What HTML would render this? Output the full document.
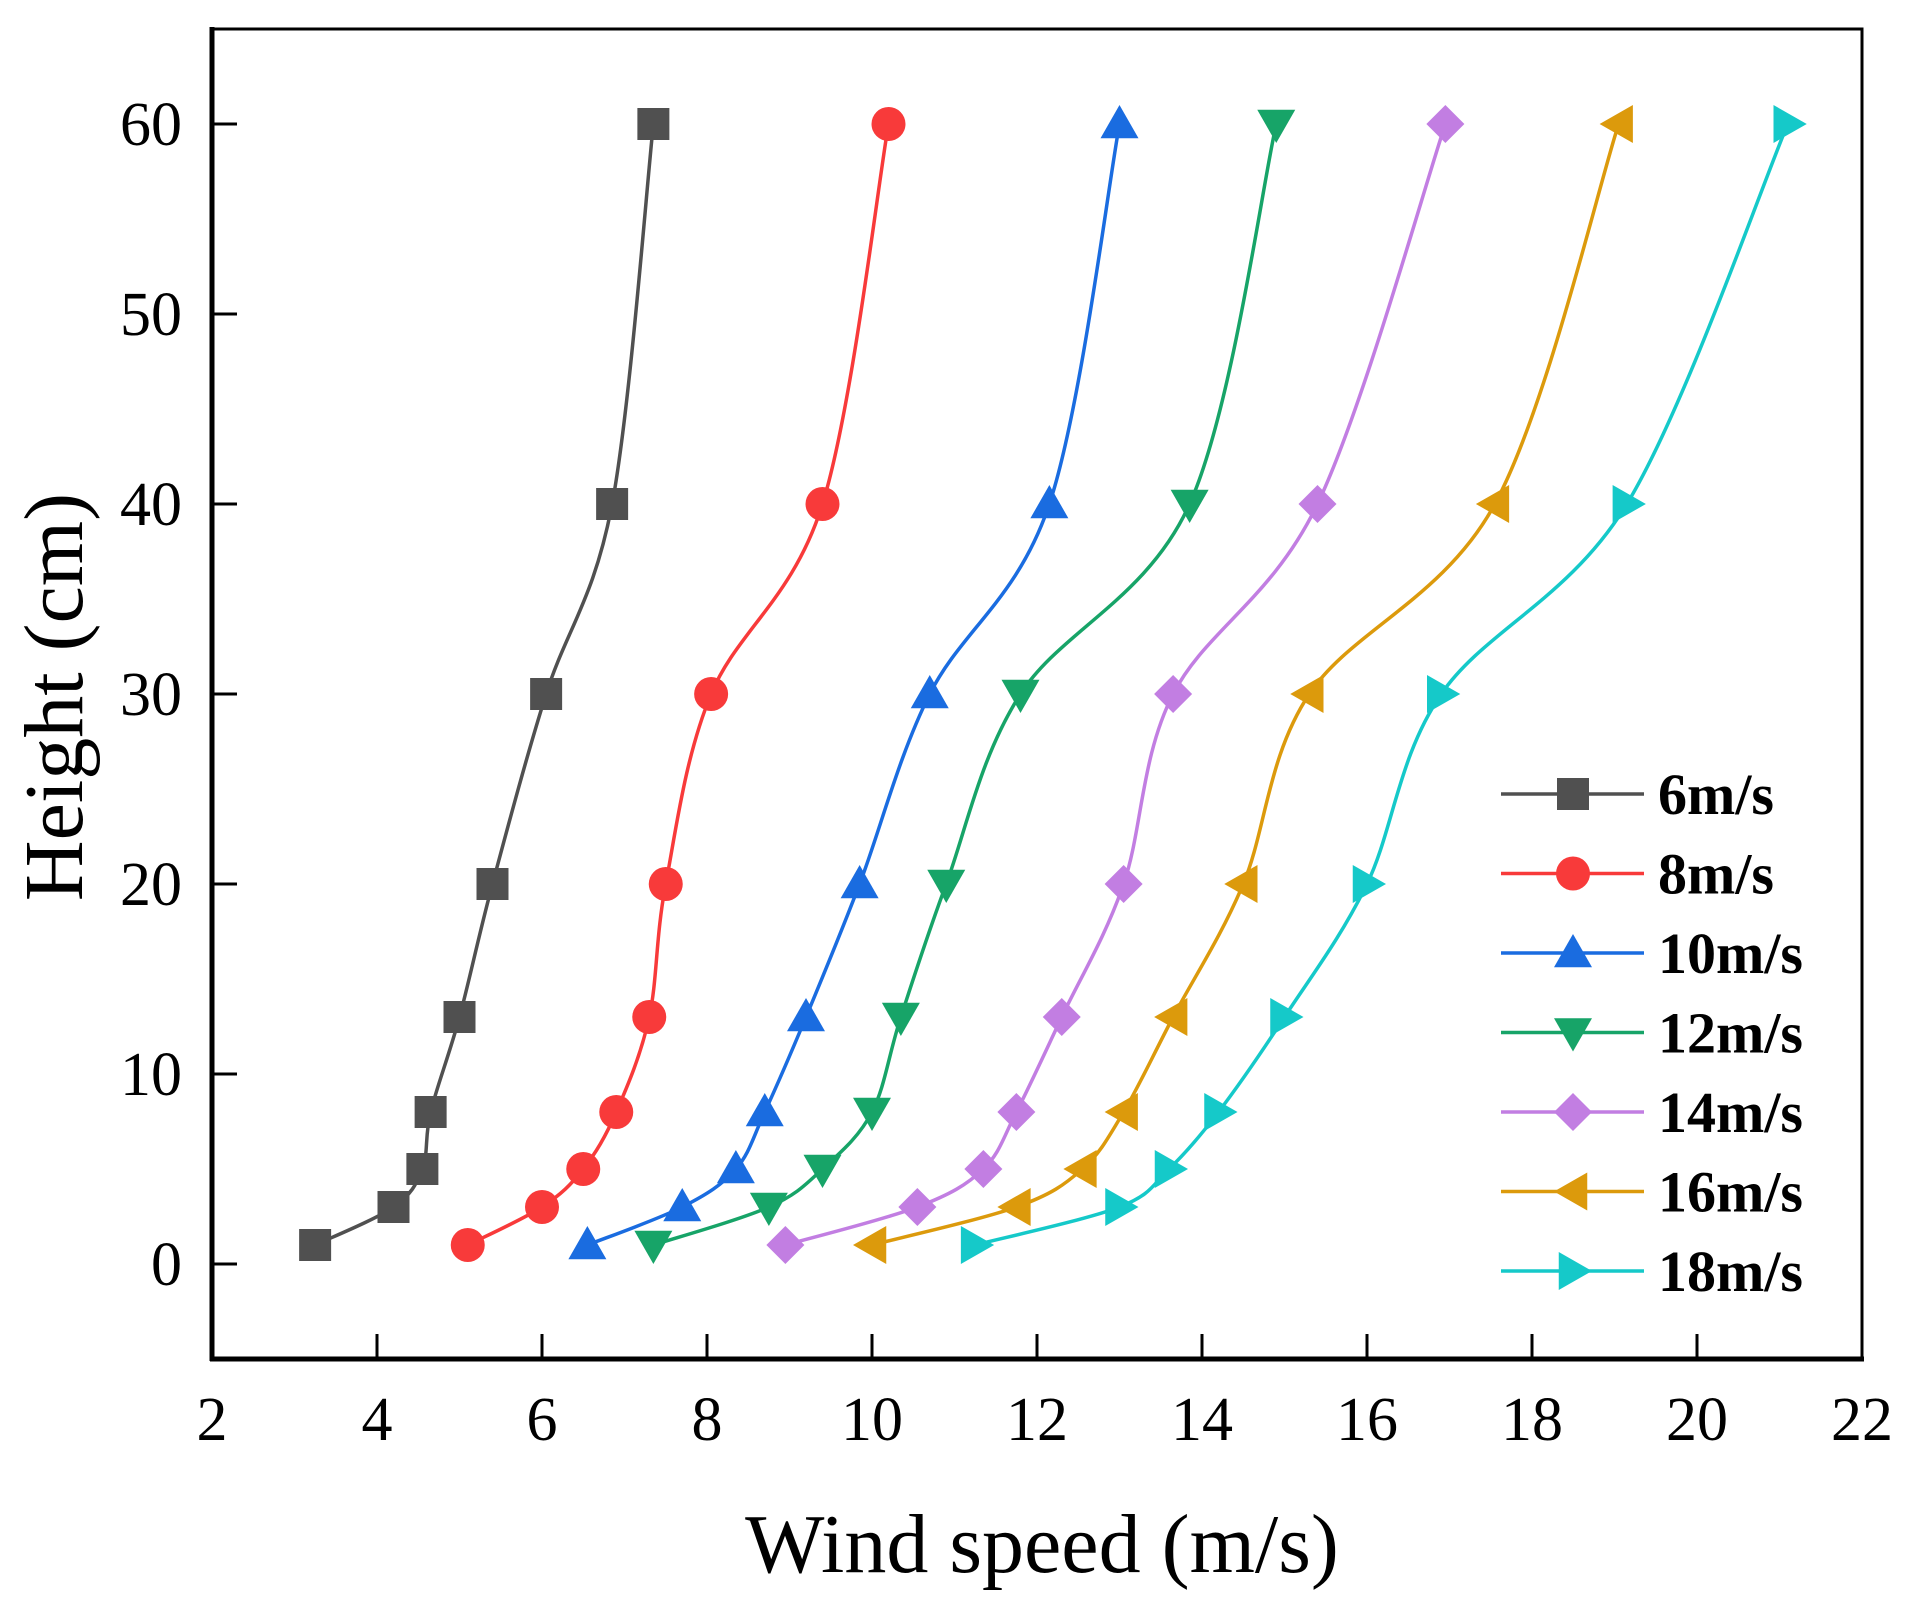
<!DOCTYPE html>
<html><head><meta charset="utf-8"><style>
html,body{margin:0;padding:0;background:#fff;}
svg{display:block;font-family:"Liberation Serif",serif;}
</style></head><body>
<svg id="chart" width="1906" height="1608" viewBox="0 0 1906 1608" xmlns="http://www.w3.org/2000/svg"></svg>
<script>
const xTicks=[2,4,6,8,10,12,14,16,18,20,22];
const yTicks=[0,10,20,30,40,50,60];
const heights=[1,3,5,8,13,20,30,40,60];
const seriesNames=["6m/s","8m/s","10m/s","12m/s","14m/s","16m/s","18m/s"];
const s6=[3.25,4.2,4.55,4.65,5.0,5.4,6.05,6.85,7.35];
const s8=[5.1,6.0,6.5,6.9,7.3,7.5,8.05,9.4,10.2];
const s10=[6.55,7.7,8.35,8.7,9.2,9.85,10.7,12.15,13.0];
const s12=[7.35,8.75,9.4,10.0,10.35,10.9,11.8,13.85,14.9];
const s14=[8.95,10.55,11.35,11.75,12.3,13.05,13.65,15.4,16.95];
const s16=[10.0,11.75,12.55,13.05,13.65,14.5,15.3,17.55,19.05];
const s18=[11.25,13.0,13.6,14.2,15.0,16.0,16.9,19.15,21.1];
const seriesValues=[s6,s8,s10,s12,s14,s16,s18];

const colors=["#505050","#f83a3a","#1a6ce0","#17a468","#c27ee2","#dc9a0c","#15c9c9"];
const markers=["square","circle","up","down","diamond","left","right"];
const L=212,R=1862,T=29,B=1359;
const xmin=2,xmax=22,ymin=-5,ymax=65;
const X=v=>L+(v-xmin)/(xmax-xmin)*(R-L);
const Y=v=>B-(v-ymin)/(ymax-ymin)*(B-T);
const svg=document.getElementById('chart');
const NS="http://www.w3.org/2000/svg";
function el(tag,attrs,parent){const e=document.createElementNS(NS,tag);for(const k in attrs)e.setAttribute(k,attrs[k]);(parent||svg).appendChild(e);return e;}

function markerShape(type,cx,cy,color,g){
  const r=16;let e;
  if(type==="square")e=el('rect',{x:cx-r,y:cy-r,width:2*r,height:2*r,fill:color},g);
  else if(type==="circle")e=el('circle',{cx:cx,cy:cy,r:r+1,fill:color},g);
  else{
    let p;const a=19;
    if(type==="up")p=[[cx,cy-a],[cx+a,cy+a*0.75],[cx-a,cy+a*0.75]];
    if(type==="down")p=[[cx,cy+a],[cx+a,cy-a*0.75],[cx-a,cy-a*0.75]];
    if(type==="left")p=[[cx-a,cy],[cx+a*0.75,cy-a],[cx+a*0.75,cy+a]];
    if(type==="right")p=[[cx+a,cy],[cx-a*0.75,cy-a],[cx-a*0.75,cy+a]];
    if(type==="diamond")p=[[cx,cy-a],[cx+a,cy],[cx,cy+a],[cx-a,cy]];
    e=el('polygon',{points:p.map(q=>q.join(',')).join(' '),fill:color},g);
  }
  return e;
}

seriesValues.forEach((vals,si)=>{
  const g=el('g',{});
  
  
  const pts=vals.map((v,i)=>[X(v),Y(heights[i])]);
  let d="M"+pts[0][0]+","+pts[0][1];
  for(let i=0;i<pts.length-1;i++){
    const p0=pts[i-1]||pts[i],p1=pts[i],p2=pts[i+1],p3=pts[i+2]||pts[i+1];
    const c1=[p1[0]+(p2[0]-p0[0])/6,p1[1]+(p2[1]-p0[1])/6];
    const c2=[p2[0]-(p3[0]-p1[0])/6,p2[1]-(p3[1]-p1[1])/6];
    d+=" C"+c1.join(",")+" "+c2.join(",")+" "+p2.join(",");
  }
  const path=el('path',{d:d,fill:'none',stroke:colors[si],'stroke-width':3.5},g);
  
  
  pts.forEach((p,i)=>{
    const m=markerShape(markers[si],p[0],p[1],colors[si],g);
    
    
  });
});

const frame=el('rect',{x:L,y:T,width:R-L,height:B-T,fill:'none',stroke:'#000','stroke-width':3});


const xl=el('line',{x1:L-2,y1:B,x2:R+2,y2:B,stroke:'#000','stroke-width':5});


const yl=el('line',{x1:L,y1:T-2,x2:L,y2:B+2,stroke:'#000','stroke-width':5});



xTicks.forEach(t=>{
  if(t!==xmin&&t!==xmax){
    const tk=el('line',{x1:X(t),y1:B,x2:X(t),y2:B-25,stroke:'#000','stroke-width':3});
    
    
  }
  const tx=el('text',{x:X(t),y:1440,'font-size':62,'text-anchor':'middle',fill:'#000'});
  tx.textContent=t;
  
  
});
yTicks.forEach(t=>{
  const tk=el('line',{x1:L,y1:Y(t),x2:L+25,y2:Y(t),stroke:'#000','stroke-width':3});
  
  
  const tx=el('text',{x:182,y:Y(t)+21,'font-size':62,'text-anchor':'end',fill:'#000'});
  tx.textContent=t;
  
  
});

const xt=el('text',{x:1042,y:1572,'font-size':84,'text-anchor':'middle',fill:'#000'});
xt.textContent="Wind speed (m/s)";


const yt=el('text',{x:0,y:0,'font-size':84,'text-anchor':'middle',fill:'#000',transform:'translate(82,697) rotate(-90)'});
yt.textContent="Height (cm)";



const lg=el('g',{});


seriesNames.forEach((n,i)=>{
  const cy=794+i*79.5;
  const g=el('g',{},lg);
  
  
  el('line',{x1:1501,y1:cy,x2:1644,y2:cy,stroke:colors[i],'stroke-width':3.5},g);
  markerShape(markers[i],1573,cy,colors[i],g);
  const t=el('text',{x:1658,y:cy+20,'font-size':58,'font-weight':'bold',fill:'#000'},g);
  t.textContent=n;
});
</script>
</body></html>
